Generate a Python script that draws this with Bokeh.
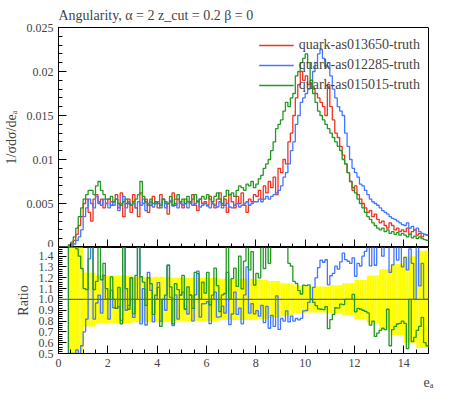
import numpy as np
from bokeh.plotting import figure
from bokeh.layouts import column
from bokeh.models import Range1d, FixedTicker, Span, Legend, LegendItem
from bokeh.embed import file_html
from bokeh.resources import INLINE

FONT = "Liberation Serif"
edges = np.round(np.arange(0, 15.01, 0.1), 2)

# values in units of 1e-4
red = [0,0,0,0,2,4,8,15,25,35, 50,55,40,30,55,60,50,55,45,50, 55,48,52,60,45,62,35,50,55,40,
       60,45,35,62,50,55,40,48,58,50, 45,60,55,50,38,52,62,48,55,50, 45,55,52,50,60,48,42,55,50,52,
       48,58,50,45,55,62,48,55,40,60, 52,45,58,50,62,48,40,55,52,60, 58,65,55,70,62,75,68,80,60,90,
       85,100,95,120,130,150,170,185,200,190, 195,185,190,180,175,170,165,160,150,185,
       160,145,130,125,115,105,95,85,75,65, 70,60,55,50,45,40,42,35,38,32,
       28,30,25,22,28,25,20,22,18,20, 18,22,15,18,20,14,16,12,15,14]
blue = [0,0,0,0,1,2,4,8,12,20, 35,45,55,50,45,58,52,48,55,50, 45,52,48,55,42,50,58,45,52,48,
        50,45,52,48,55,42,50,52,46,50, 52,48,55,45,50,53,47,50,45,52, 48,50,45,52,48,50,53,46,48,50,
        47,45,50,48,46,52,45,48,50,46, 45,48,50,46,48,50,52,48,50,52, 52,55,52,55,58,55,58,60,62,65,
        70,80,85,95,110,120,140,150,165,170, 175,180,190,200,210,220,225,215,205,210,
        195,180,170,160,155,150,130,115,100,90, 85,80,72,70,65,60,55,52,50,48,
        45,42,40,38,35,33,32,30,28,26, 25,28,22,24,20,22,18,16,15,14]
green = [0,0,0,0,3,6,12,22,35,45, 55,60,65,65,60,70,75,65,60,55, 55,58,52,55,50,48,52,55,50,48,
         52,55,60,75,58,52,48,55,50,52, 50,45,55,52,50,58,48,55,60,52, 55,50,58,52,55,60,52,55,58,55,
         60,55,52,58,62,55,50,58,65,60, 62,58,65,70,68,65,72,70,75,68, 72,78,82,90,95,100,110,120,135,140,
         145,155,165,160,170,175,195,200,210,215, 220,210,190,175,165,155,150,145,140,135,
         130,125,120,115,110,100,95,85,75,68, 62,55,50,45,40,35,32,28,25,22,
         20,22,18,20,16,18,15,17,14,16, 14,12,15,11,13,10,12,10,9,8]
# relative error of reference per half unit
rel_err = [0.5,0.5,0.25,0.22,0.22,0.22,0.21,0.21,0.21,0.2,0.2,0.2,0.2,0.19,0.19,0.19,
           0.18,0.17,0.15,0.13,0.12,0.12,0.13,0.15,0.18,0.22,0.28,0.33,0.4,0.45]
labels = ["quark-as013650-truth", "quark-as012285-truth", "quark-as015015-truth"]
colors = ["#ee3322", "#4477ff", "#229922"]

r = np.array(red) * 1e-4
b = np.array(blue) * 1e-4
g = np.array(green) * 1e-4
err = np.repeat(rel_err, 5)

def style(p):
    for ax in (p.xaxis + p.yaxis):
        ax.major_tick_in = 8; ax.major_tick_out = 0
        ax.minor_tick_in = 4; ax.minor_tick_out = 0
        ax.major_label_text_font = FONT
        ax.major_label_text_font_size = "12px"
        ax.axis_label_text_font = FONT
        ax.axis_label_text_font_style = "normal"
        ax.axis_label_text_font_size = "14px"
    p.xgrid.visible = False; p.ygrid.visible = False
    p.outline_line_color = "black"

top = figure(width=434, height=247, output_backend="svg", toolbar_location=None,
             x_range=Range1d(0, 15), y_range=Range1d(0, 0.025),
             min_border_left=50, min_border_right=6, min_border_bottom=0, min_border_top=4)
top.title.text = "Angularity, α = 2 z_cut = 0.2 β = 0"
top.title.text_font = FONT; top.title.text_font_size = "14px"; top.title.text_font_style = "normal"
top.yaxis.ticker = FixedTicker(ticks=[0, 0.005, 0.01, 0.015, 0.02, 0.025],
                               minor_ticks=list(np.round(np.arange(0, 0.0251, 0.001), 4)))
top.yaxis.axis_label = "1/σdσ/deₐ"
top.xaxis.ticker = FixedTicker(ticks=[0,2,4,6,8,10,12,14], minor_ticks=list(np.arange(0, 15.1, 0.5)))
top.xaxis.major_label_text_color = None
style(top)
items = []
for vals, c, lab in zip([r, b, g], colors, labels):
    rr = top.step(edges, np.append(vals, vals[-1]), mode="after", line_color=c, line_width=1.3)
    items.append(LegendItem(label=lab, renderers=[rr]))
leg = Legend(items=items, location="top_right", border_line_color=None, background_fill_alpha=0,
             label_text_font=FONT, label_text_font_size="14px", glyph_width=35,
             spacing=-4, margin=8)
top.add_layout(leg)

bot = figure(width=434, height=145, output_backend="svg", toolbar_location=None,
             x_range=top.x_range, y_range=Range1d(0.5, 1.48),
             min_border_left=50, min_border_right=6, min_border_top=0)
bot.yaxis.ticker = FixedTicker(ticks=list(np.round(np.arange(0.5, 1.41, 0.1), 1)),
                               minor_ticks=list(np.round(np.arange(0.5, 1.48, 0.02), 2)))
bot.yaxis.major_label_overrides = {float(v): f"{v:.1f}" for v in np.round(np.arange(0.5, 1.41, 0.1), 1)}
bot.yaxis.axis_label = "Ratio"
bot.xaxis.ticker = FixedTicker(ticks=[0,2,4,6,8,10,12,14], minor_ticks=list(np.arange(0, 15.1, 0.5)))
bot.xaxis.axis_label = "eₐ"
bot.xaxis.axis_label_align = "end"
style(bot)
mask = r > 0
bot.quad(left=edges[:-1][mask], right=edges[1:][mask], bottom=(1 - err)[mask], top=(1 + err)[mask],
         fill_color="#ffff00", line_color=None)
bot.add_layout(Span(location=1.0, dimension="width", line_color="#557733", line_width=1.2))
with np.errstate(divide="ignore", invalid="ignore"):
    for vals, c in [(b, colors[1]), (g, colors[2])]:
        ratio = np.where(mask, vals / np.where(mask, r, 1), 0.0)
        ratio = np.clip(ratio, 0.3, 1.7)
        bot.step(edges, np.append(ratio, ratio[-1]), mode="after", line_color=c, line_width=1.3)

layout = column(top, bot, spacing=0)
open("out.html", "w").write(file_html(layout, INLINE))
